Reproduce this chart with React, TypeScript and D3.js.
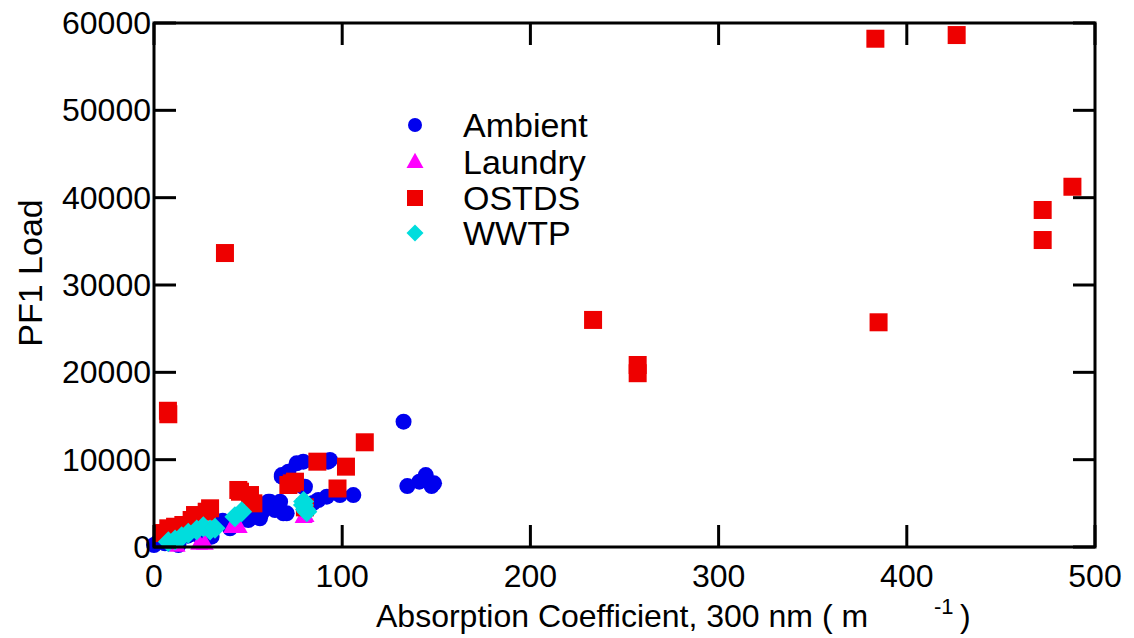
import React from "react";
import * as d3 from "d3";

const xTicks = [0, 100, 200, 300, 400, 500];
const yTicks = [0, 10000, 20000, 30000, 40000, 50000, 60000];

const ambientX = [0, 2.3, 5.8, 10, 13, 18, 22, 25.3, 30.6, 36.5, 40.4, 45, 50.1, 51.9, 53.7, 56.3, 57.2, 60.7, 61.6, 62.9, 64.3, 67, 68.7, 70.5, 79.2, 80.2, 84.5, 87.3, 91.8, 98.8, 105.9, 67.9, 67.9, 71.4, 75.8, 79.3, 92.5, 93.5, 132.6, 134.6, 141, 144.4, 147.5, 148.8];
const ambientY = [230, 600, 420, 800, 230, 1300, 1500, 1000, 1180, 3000, 2140, 3000, 3090, 3470, 3470, 3290, 3860, 5190, 5190, 4620, 4240, 5190, 3860, 3860, 6900, 6900, 5040, 5380, 5760, 5950, 5950, 8050, 8240, 8620, 9580, 9770, 9770, 9960, 14350, 6980, 7480, 8240, 6980, 7290];

const laundryX = [12, 24, 27, 41.5, 45, 79.5, 80.5];
const laundryY = [200, 420, 420, 2350, 2350, 3500, 3600];

const ostdsX = [383.3, 426.5, 488, 472.2, 472.2, 385, 233.3, 257, 257, 37.7, 7.4, 7.6, 112, 102, 97.5, 86.8, 71.4, 74.9, 73.2, 80.2, 45.7, 51, 52.8, 44.8, 4.3, 7.6, 11.2, 15.6, 20, 21.8, 28, 29.8];
const ostdsY = [58200, 58620, 41250, 38590, 35150, 25730, 26000, 20840, 19900, 33660, 15600, 15200, 11990, 9200, 6700, 9770, 7100, 7480, 7290, 4540, 6330, 5950, 5000, 6530, 1600, 2140, 2320, 2520, 3090, 3660, 4040, 4430];

const wwtpX = [7.6, 11.2, 14.7, 18.2, 22.7, 26.2, 29.8, 32.4, 43, 46.6, 79.5, 80.5, 79.4, 81.2];
const wwtpY = [610, 800, 1180, 1570, 1950, 2320, 1950, 2140, 3470, 4040, 5200, 4300, 4810, 4040];

const seriesNames = ["Ambient", "Laundry", "OSTDS", "WWTP"];
const seriesColors = ["#0000ee", "#ff00ff", "#ee0000", "#00dddd"];

const W = 1134, H = 638;
const L = 154, R = 1095, T = 23, B = 547;
const FONT = "'Liberation Sans', Arial, sans-serif";

function marker(kind: number, x: number, y: number, s: number, color: string, key: string) {
  if (kind === 0) return <circle key={key} cx={x} cy={y} r={s / 2} fill={color} />;
  if (kind === 1) {
    const h = s * 0.9;
    const p = `M${x},${y - h * 0.6} L${x + s / 2},${y + h * 0.4} L${x - s / 2},${y + h * 0.4} Z`;
    return <path key={key} d={p} fill={color} />;
  }
  if (kind === 2) return <rect key={key} x={x - s / 2} y={y - s / 2} width={s} height={s} fill={color} />;
  const d = s / 2;
  return <path key={key} d={`M${x},${y - d} L${x + d},${y} L${x},${y + d} L${x - d},${y} Z`} fill={color} />;
}

export default function App() {
  const x = d3.scaleLinear().domain([0, 500]).range([L, R]);
  const y = d3.scaleLinear().domain([0, 60000]).range([B, T]);
  const series = [
    { xs: ambientX, ys: ambientY, size: 16 },
    { xs: laundryX, ys: laundryY, size: 18 },
    { xs: ostdsX, ys: ostdsY, size: 18 },
    { xs: wwtpX, ys: wwtpY, size: 21 },
  ];
  const tickLen = 22;
  const legendY = [125, 162, 198, 233];
  const legendSizes = [14, 17, 16, 17];
  return (
    <div style={{ position: "absolute", left: 0, top: 0 }}>
      <svg width={W} height={H} style={{ display: "block", background: "#fff" }}>
        <rect x={0} y={0} width={W} height={H} fill="#fff" />
        {series.map((s, si) =>
          s.xs.map((v, i) => marker(si, x(v), y(s.ys[i]), s.size, seriesColors[si], `m${si}-${i}`))
        )}
        <g stroke="#000" strokeWidth={3} fill="none">
          <rect x={L} y={T} width={R - L} height={B - T} />
          {xTicks.map((t) => (
            <g key={`xt${t}`}>
              <line x1={x(t)} x2={x(t)} y1={B} y2={B - tickLen} />
              <line x1={x(t)} x2={x(t)} y1={T} y2={T + tickLen} />
            </g>
          ))}
          {yTicks.map((t) => (
            <g key={`yt${t}`}>
              <line x1={L} x2={L + tickLen} y1={y(t)} y2={y(t)} />
              <line x1={R} x2={R - tickLen} y1={y(t)} y2={y(t)} />
            </g>
          ))}
        </g>
        <g fontFamily={FONT} fontSize={32} fill="#000">
          {xTicks.map((t) => (
            <text key={`xl${t}`} x={x(t)} y={587} textAnchor="middle">{t}</text>
          ))}
          {yTicks.map((t) => (
            <text key={`yl${t}`} x={151} y={y(t) + 11} textAnchor="end">{t}</text>
          ))}
        </g>
        <text x={376} y={627} fontFamily={FONT} fontSize={32} fill="#000">
          Absorption Coefficient, 300 nm ( m
        </text>
        <text x={934} y={614} fontFamily={FONT} fontSize={22} fill="#000">-1</text>
        <text x={960} y={627} fontFamily={FONT} fontSize={32} fill="#000">)</text>
        <text transform="translate(42,273) rotate(-90)" textAnchor="middle" fontFamily={FONT} fontSize={34} fill="#000">
          PF1 Load
        </text>
        {seriesNames.map((n, i) => (
          <g key={n}>
            {marker(i, 415, legendY[i], legendSizes[i], seriesColors[i], `lg${i}`)}
            <text x={463} y={legendY[i] + 12} fontFamily={FONT} fontSize={34} fill="#000">{n}</text>
          </g>
        ))}
      </svg>
    </div>
  );
}
